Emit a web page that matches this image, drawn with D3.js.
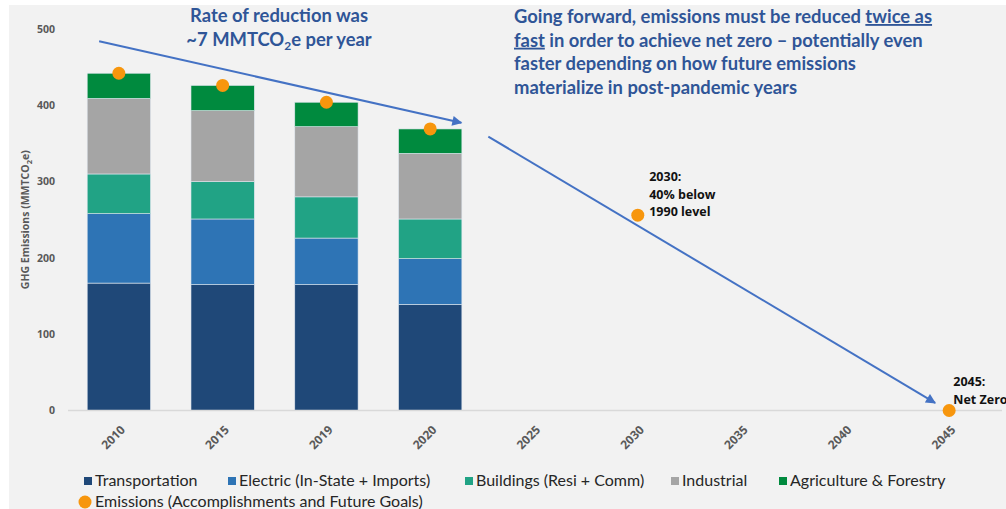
<!DOCTYPE html>
<meta charset="utf-8" />
<script src="https://d3js.org/d3.v7.min.js"></script>
<style>
  body { margin: 0; background: #fff; }
  svg { display: block; font-family: Lato, 'Open Sans', sans-serif; }
</style>
<div id="my_dataviz"></div>
<script>
  // categories on the x axis
  const years = ['2010', '2015', '2019', '2020', '2025', '2030', '2035', '2040', '2045'];
  const barYears = ['2010', '2015', '2019', '2020'];

  // sector emissions (MMTCO2e), one value per bar year
  const transportation = [167, 165, 165, 139];
  const electric = [91, 86, 61, 60];
  const buildings = [52, 49, 54, 52];
  const industrial = [99, 93, 92, 86];
  const agriculture = [33, 33, 32, 32];

  // emissions totals / goals (orange dots)
  const goalYears = ['2010', '2015', '2019', '2020', '2030', '2045'];
  const goalValues = [442, 426, 404, 369, 256, 0];

  const yTicks = [0, 100, 200, 300, 400, 500];

  const sectors = [
    { key: 'Transportation', values: transportation, color: '#1f4878' },
    { key: 'Electric (In-State + Imports)', values: electric, color: '#2e74b5' },
    { key: 'Buildings (Resi + Comm)', values: buildings, color: '#21a385' },
    { key: 'Industrial', values: industrial, color: '#a5a5a5' },
    { key: 'Agriculture & Forestry', values: agriculture, color: '#008a3e' }
  ];

  const W = 1006, H = 509;
  const margin = { top: 29, right: 6, bottom: 98.5, left: 68 };

  const svg = d3.select('#my_dataviz').append('svg')
    .attr('width', W).attr('height', H);

  // grey panel
  svg.append('rect').attr('x', 9).attr('y', 5)
    .attr('width', W - 9).attr('height', H - 5).attr('fill', '#f2f2f2');

  const x = d3.scaleBand().domain(years)
    .range([margin.left, W - margin.right])
    .paddingInner(0.39).paddingOuter(0.185);
  const y = d3.scaleLinear().domain([0, 500])
    .range([H - margin.bottom, margin.top]);

  // stacked bars
  const table = barYears.map((yr, i) => {
    const row = { year: yr };
    sectors.forEach(s => { row[s.key] = s.values[i]; });
    return row;
  });
  const series = d3.stack().keys(sectors.map(s => s.key))(table);

  svg.append('g').selectAll('g').data(series).join('g')
    .attr('fill', (d, i) => sectors[i].color)
    .selectAll('rect').data(d => d).join('rect')
    .attr('x', d => x(d.data.year))
    .attr('y', d => y(d[1]))
    .attr('width', x.bandwidth())
    .attr('height', d => y(d[0]) - y(d[1]))
    .attr('stroke', '#dfe6ee').attr('stroke-width', 0.6);

  // x axis baseline
  svg.append('line')
    .attr('x1', margin.left).attr('x2', W - 4)
    .attr('y1', y(0)).attr('y2', y(0))
    .attr('stroke', '#d9d9d9').attr('stroke-width', 1.5);

  // y axis labels
  const yAxis = svg.append('g')
    .attr('transform', `translate(${margin.left - 10},0)`)
    .call(d3.axisLeft(y).tickValues(yTicks).tickSize(0).tickPadding(3));
  yAxis.select('.domain').remove();
  yAxis.selectAll('text')
    .style('font-family', "'Open Sans', sans-serif")
    .style('font-size', '10.5px').style('font-weight', 700).attr('fill', '#595959');

  // x axis labels
  const xAxis = svg.append('g')
    .attr('transform', `translate(0,${y(0)})`)
    .call(d3.axisBottom(x).tickSize(0));
  xAxis.select('.domain').remove();
  xAxis.selectAll('text')
    .attr('text-anchor', 'end')
    .attr('dy', 0)
    .attr('transform', 'translate(5,18) rotate(-45)')
    .style('font-family', "'Open Sans', sans-serif")
    .style('font-size', '12px').style('font-weight', 700).attr('fill', '#595959');

  // y axis title
  svg.append('text')
    .attr('transform', `translate(29,${y(250)}) rotate(-90)`)
    .attr('text-anchor', 'middle')
    .style('font-family', "'Open Sans', sans-serif")
    .style('font-size', '10.5px').style('font-weight', 700).attr('fill', '#595959')
    .html('GHG Emissions (MMTCO<tspan font-size="7.5px" dy="3">2</tspan><tspan dy="-3">e)</tspan>');

  // arrows
  const defs = svg.append('defs');
  defs.append('marker').attr('id', 'arr')
    .attr('viewBox', '0 0 10 10').attr('refX', 9).attr('refY', 5)
    .attr('markerWidth', 14).attr('markerHeight', 10).attr('orient', 'auto')
    .attr('markerUnits', 'userSpaceOnUse')
    .append('path').attr('d', 'M0,0 L10,5 L0,10 Z').attr('fill', '#4472c4');

  const cx = (cat, off) => x(cat) + x.bandwidth() / 2 + off * x.step();
  const arrows = [
    { from: ['2010', -0.19, 484], to: ['2020', 0.3, 377] },
    { from: ['2020', 0.56, 359], to: ['2045', -0.135, 10] }
  ];
  svg.append('g').selectAll('line').data(arrows).join('line')
    .attr('x1', d => cx(d.from[0], d.from[1])).attr('y1', d => y(d.from[2]))
    .attr('x2', d => cx(d.to[0], d.to[1])).attr('y2', d => y(d.to[2]))
    .attr('stroke', '#4472c4').attr('stroke-width', 2)
    .attr('marker-end', 'url(#arr)');

  // emission dots
  svg.append('g').selectAll('circle').data(goalYears).join('circle')
    .attr('cx', d => cx(d, 0))
    .attr('cy', (d, i) => y(goalValues[i]))
    .attr('r', 6.5).attr('fill', '#f7960d');

  // annotations near dots
  const note = (lines, xx, yy) => {
    const t = svg.append('text')
      .style('font-family', "'Open Sans', sans-serif")
      .style('font-size', '12.5px').style('font-weight', 700).attr('fill', '#111');
    lines.forEach((l, i) => t.append('tspan').attr('x', xx).attr('y', yy + i * 17.5).text(l));
  };
  note(['2030:', '40% below', '1990 level'], cx('2030', 0.11), 181);
  note(['2045:', 'Net Zero'], cx('2045', 0.04), 386);

  // headline texts
  const blue = '#2f5597';
  const head = svg.append('text').attr('text-anchor', 'middle')
    .style('font-size', '18.4px').style('font-weight', 700).attr('fill', blue);
  head.append('tspan').attr('x', 279).attr('y', 22).text('Rate of reduction was');
  const l2 = head.append('tspan').attr('x', 279).attr('y', 46);
  l2.append('tspan').text('~7 MMTCO');
  l2.append('tspan').attr('dy', 4).style('font-size', '12px').text('2');
  l2.append('tspan').attr('dy', -4).text('e per year');

  const right = svg.append('text')
    .style('font-size', '18.4px').style('font-weight', 700).attr('fill', blue);
  const rl = [
    [['Going forward, emissions must be reduced ', false], ['twice as', true]],
    [['fast', true], [' in order to achieve net zero \u2013 potentially even', false]],
    [['faster depending on how future emissions', false]],
    [['materialize in post-pandemic years', false]]
  ];
  rl.forEach((parts, i) => {
    const line = right.append('tspan').attr('x', 514).attr('y', 23 + i * 23.7);
    parts.forEach(p => {
      line.append('tspan').text(p[0])
        .style('text-decoration', p[1] ? 'underline' : 'none');
    });
  });

  // legend
  const lg = svg.append('g').style('font-size', '16px').attr('fill', '#262626');
  const legendX = [84, 228, 465, 671, 779];
  sectors.forEach((s, i) => {
    lg.append('rect').attr('x', legendX[i]).attr('y', 477)
      .attr('width', 8).attr('height', 8).attr('fill', s.color);
    lg.append('text').attr('x', legendX[i] + 11).attr('y', 486).text(s.key);
  });
  lg.append('circle').attr('cx', 85).attr('cy', 502).attr('r', 6.5).attr('fill', '#f7960d');
  lg.append('text').attr('x', 95).attr('y', 507).text('Emissions (Accomplishments and Future Goals)');
</script>
